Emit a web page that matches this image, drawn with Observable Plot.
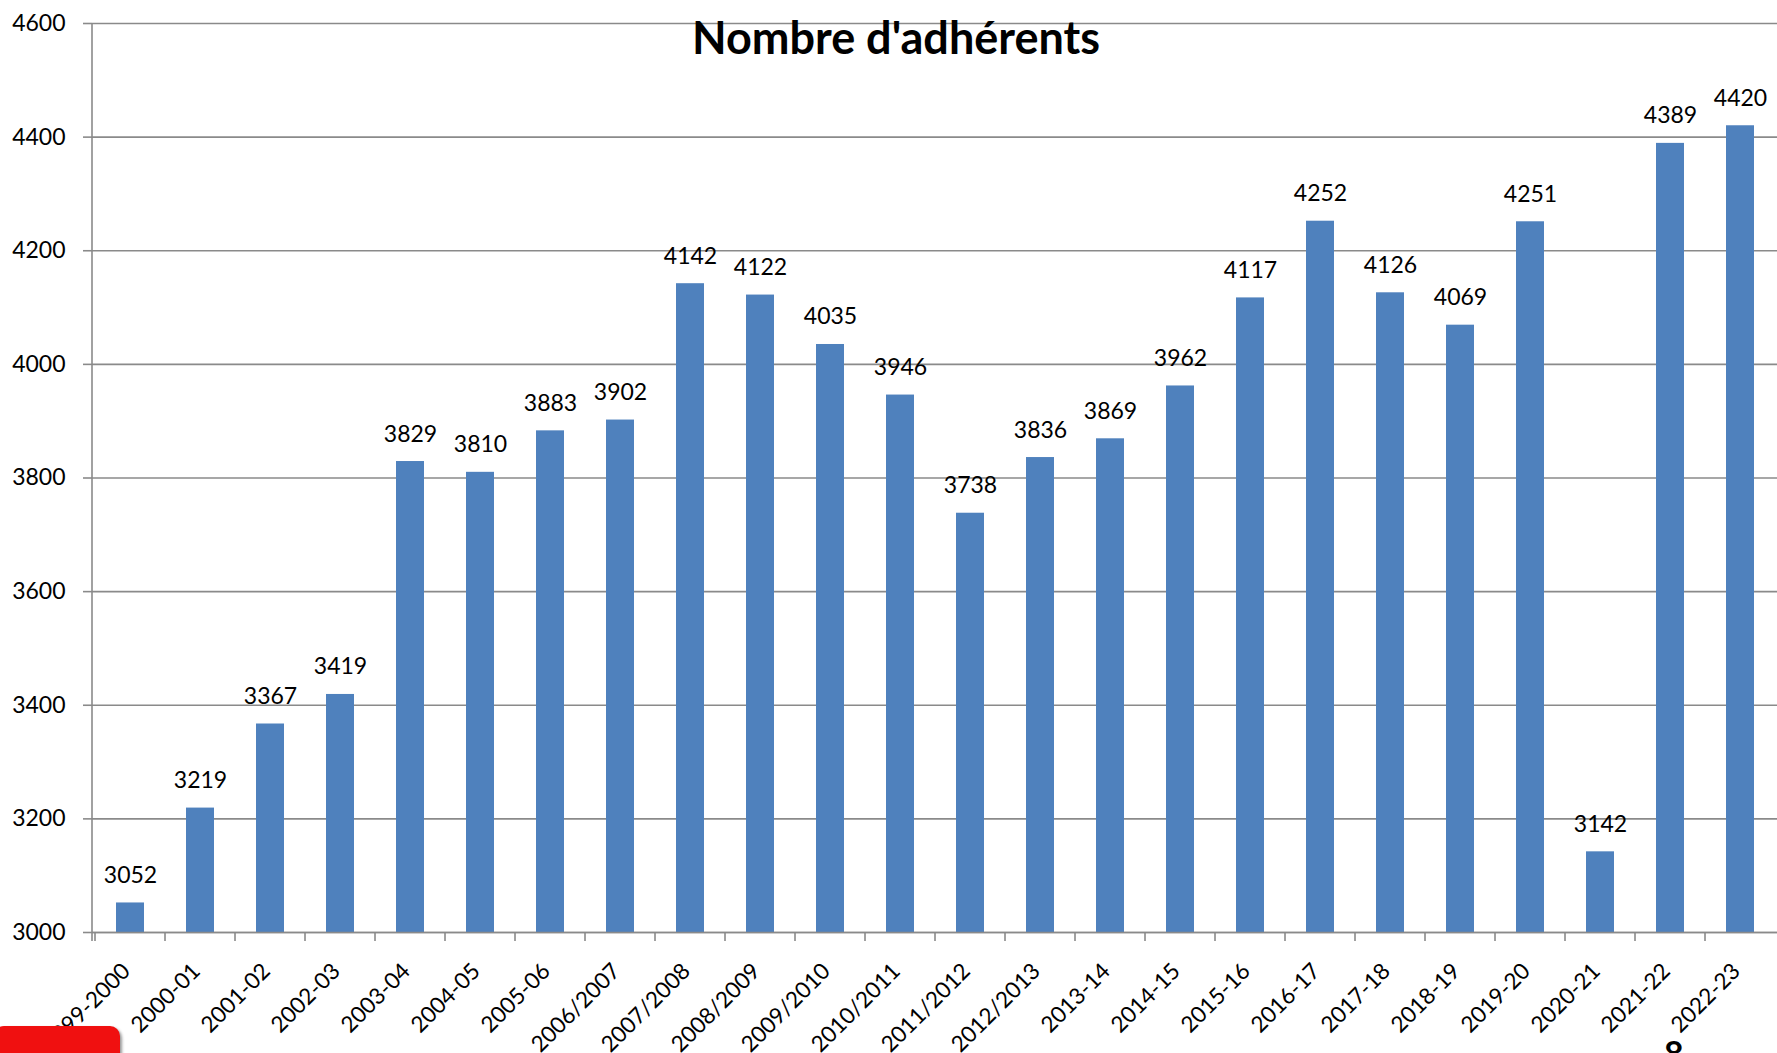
<!DOCTYPE html>
<html>
<head>
<meta charset="utf-8">
<script src="https://cdn.jsdelivr.net/npm/d3@7"></script>
<script src="https://cdn.jsdelivr.net/npm/@observablehq/plot@0.6"></script>
<style>
  html, body { margin: 0; padding: 0; background: #fff; overflow: hidden; }
  #wrap { position: relative; width: 1777px; height: 1053px; }
  #logo { position: absolute; left: -6px; top: 1026px; width: 126px; height: 40px; background: #f01010; border-radius: 10px; box-shadow: 2px 2px 3px #999; }
  #page { position: absolute; left: 1664px; top: 1032px; font: bold 34px Lato, sans-serif; color: #000; }
</style>
</head>
<body>
<div id="wrap">
  <div id="chart"></div>
  <div id="logo"></div>
  <div id="page">8</div>
</div>
<script>
const seasons = ["1999-2000","2000-01","2001-02","2002-03","2003-04","2004-05","2005-06","2006/2007","2007/2008","2008/2009","2009/2010","2010/2011","2011/2012","2012/2013","2013-14","2014-15","2015-16","2016-17","2017-18","2018-19","2019-20","2020-21","2021-22","2022-23"];
const members = [3052,3219,3367,3419,3829,3810,3883,3902,4142,4122,4035,3946,3738,3836,3869,3962,4117,4252,4126,4069,4251,3142,4389,4420];
const yTicks = [3000,3200,3400,3600,3800,4000,4200,4400,4600];
const title = "Nombre d'adhérents";

const data = seasons.map((s, i) => ({season: s, value: members[i]}));
const font = "Lato, sans-serif";
const gridColor = "#8a8a8a";

// y-axis line and tick marks at band boundaries (Excel style)
function axisLines(index, scales, values, dimensions) {
  const x = scales.x;
  const g = d3.create("svg:g");
  const step = x.step ? x.step() : (dimensions.width - dimensions.marginLeft - dimensions.marginRight) / seasons.length;
  const bw = x.bandwidth ? x.bandwidth() : 0;
  const y0 = dimensions.height - dimensions.marginBottom;
  g.append("line").attr("x1", dimensions.marginLeft).attr("x2", dimensions.marginLeft)
    .attr("y1", dimensions.marginTop).attr("y2", y0 + 9)
    .attr("stroke", gridColor).attr("stroke-width", 1.6);
  for (const s of seasons) {
    const xc = x(s) + bw / 2 - step / 2;
    g.append("line").attr("x1", xc).attr("x2", xc).attr("y1", y0).attr("y2", y0 + 9)
      .attr("stroke", gridColor).attr("stroke-width", 1.6);
  }
  return g.node();
}

const chart = Plot.plot({
  width: 1777,
  height: 1053,
  marginTop: 23,
  marginBottom: 121,
  marginLeft: 92,
  marginRight: 0,
  style: {background: "#fff", fontFamily: font, color: "#000", overflow: "visible"},
  x: {domain: seasons, paddingInner: 0.6, paddingOuter: 0.3},
  y: {domain: [3000, 4600], ticks: yTicks},
  marks: [
    Plot.gridY(yTicks, {stroke: gridColor, strokeOpacity: 1, strokeWidth: 1.6}),
    Plot.axisY(yTicks, {tickSize: 9, tickPadding: 18, fontSize: 23, stroke: gridColor, strokeWidth: 1.6, label: null, tickFormat: d => String(d), fill: "#000"}),
    Plot.barY(data, {x: "season", y1: 3000, y2: "value", fill: "#4F81BD"}),
    Plot.ruleY([3000], {stroke: gridColor, strokeWidth: 1.6}),
    axisLines,
    Plot.axisX({tickRotate: -45, tickSize: 0, tickPadding: 35, dx: -4, fontSize: 22.5, label: null, fill: "#000"}),
    Plot.text(data, {x: "season", y: "value", text: d => String(d.value), dy: -20, lineAnchor: "bottom", fontSize: 23, fill: "#000"}),
    Plot.text([title], {frameAnchor: "top", dx: -39, dy: -1, fontSize: 45, fontWeight: "bold", fill: "#000"})
  ]
});
document.getElementById("chart").appendChild(chart);
</script>
</body>
</html>
